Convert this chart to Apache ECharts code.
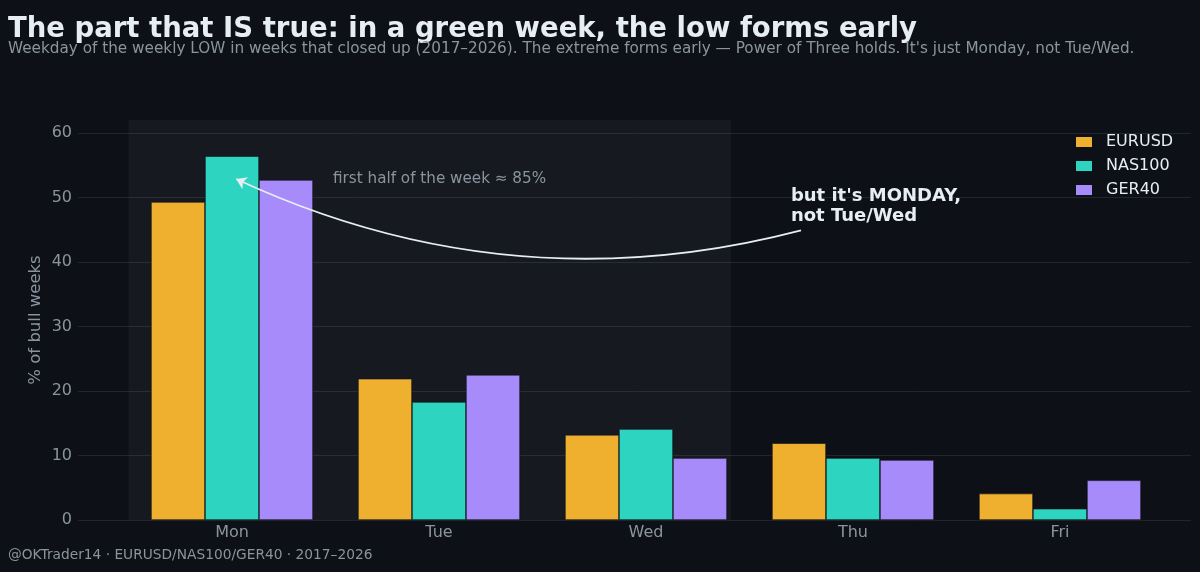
<!DOCTYPE html>
<html>
<head>
<meta charset="utf-8">
<script src="https://cdn.jsdelivr.net/npm/echarts@6/dist/echarts.min.js"></script>
<style>
  html, body { margin: 0; padding: 0; background: #0d1117; }
  #chart { width: 1200px; height: 572px; }
</style>
</head>
<body>
<div id="chart"></div>
<script>
const days = ['Mon', 'Tue', 'Wed', 'Thu', 'Fri']
const eurusd = [49.3, 21.9, 13.2, 11.9, 4.1]
const nas100 = [56.4, 18.3, 14.1, 9.6, 1.75]
const ger40 = [52.7, 22.5, 9.6, 9.3, 6.15]
const yTicks = [0, 10, 20, 30, 40, 50, 60]

const BG = '#0d1117'
const FG = '#e6edf3'
const MUTED = '#8b949e'
const GRID = '#21262d'
const FONT = 'DejaVu Sans'

const chart = echarts.init(document.getElementById('chart'), null, { renderer: 'canvas' })

const barSeries = (name, values, color) => ({
  name,
  type: 'bar',
  z: 3,
  barWidth: 54,
  barGap: '0%',
  data: values.map((v, i) => [i, v]),
  itemStyle: { color, borderColor: BG, borderWidth: 0.6 },
  emphasis: { disabled: true },
})

chart.setOption({
  backgroundColor: BG,
  animation: false,
  textStyle: { fontFamily: FONT },
  title: [
    {
      text: 'The part that IS true: in a green week, the low forms early',
      left: 8, top: 16, padding: 0,
      textStyle: { color: FG, fontSize: 27.5, fontWeight: 'bold', fontFamily: FONT },
    },
    {
      text: "Weekday of the weekly LOW in weeks that closed up (2017–2026). The extreme forms early — Power of Three holds. It's just Monday, not Tue/Wed.",
      left: 8, top: 42, padding: 0,
      textStyle: { color: MUTED, fontSize: 15.25, fontWeight: 'normal', fontFamily: FONT },
    },
    {
      text: '@OKTrader14 · EURUSD/NAS100/GER40 · 2017–2026',
      left: 8, top: 548, padding: 0,
      textStyle: { color: MUTED, fontSize: 13.75, fontWeight: 'normal', fontFamily: FONT },
    },
  ],
  legend: {
    data: ['EURUSD', 'NAS100', 'GER40'],
    orient: 'vertical',
    left: 1074, top: 134,
    padding: 0,
    icon: 'rect',
    itemWidth: 18, itemHeight: 12, itemGap: 8,
    textStyle: { color: FG, fontSize: 16, lineHeight: 16, fontFamily: FONT, padding: [0, 0, 0, 8] },
  },
  grid: { left: 78, right: 9, top: 120, bottom: 52, containLabel: false },
  xAxis: {
    type: 'value',
    min: -0.744, max: 4.633,
    axisLine: { show: false },
    axisTick: { show: false },
    splitLine: { show: false },
    axisLabel: {
      customValues: days.map((d, i) => i),
      formatter: v => days[Math.round(v)] ?? '',
      color: MUTED, fontSize: 16, margin: 5, fontFamily: FONT,
    },
  },
  yAxis: {
    type: 'value',
    min: 0, max: 62,
    interval: 10,
    name: '% of bull weeks',
    nameLocation: 'middle',
    nameGap: 34,
    nameMoveOverlap: false,
    nameTextStyle: { color: MUTED, fontSize: 16.5, fontFamily: FONT },
    axisLine: { show: false },
    axisTick: { show: false },
    axisLabel: {
      customValues: yTicks,
      color: MUTED, fontSize: 16, margin: 6, fontFamily: FONT,
    },
    splitLine: { show: true, showMaxLine: false, lineStyle: { color: GRID, width: 1 } },
  },
  series: [
    {
      // shaded "first half of the week" band
      name: 'band',
      type: 'line',
      z: 1,
      data: [],
      silent: true,
      markArea: {
        silent: true,
        itemStyle: { color: 'rgba(255,255,255,0.038)' },
        data: [[{ xAxis: -0.5, yAxis: 0 }, { xAxis: 2.41, yAxis: 62 }]],
      },
    },
    barSeries('EURUSD', eurusd, '#f0b02f'),
    barSeries('NAS100', nas100, '#2dd4bf'),
    barSeries('GER40', ger40, '#a78bfa'),
    {
      // curved arrow from the callout to the Monday bars
      name: 'arrow',
      type: 'lines',
      coordinateSystem: 'cartesian2d',
      z: 6,
      silent: true,
      symbol: ['none', 'arrow'],
      symbolSize: 10,
      lineStyle: { color: FG, width: 1.8, opacity: 1, curveness: 0.18 },
      data: [{ coords: [[2.749, 44.9], [0.02, 52.85]] }],
    },
    {
      // text notes
      name: 'notes',
      type: 'line',
      z: 6,
      data: [],
      silent: true,
      markPoint: {
        silent: true,
        symbol: 'circle',
        symbolSize: 0,
        data: [
          {
            coord: [0.488, 52.85],
            label: {
              show: true, position: 'right', distance: 0,
              formatter: 'first half of the week ≈ 85%',
              color: MUTED, fontSize: 15.2, fontFamily: FONT,
            },
          },
          {
            coord: [2.70, 48.6],
            label: {
              show: true, position: 'right', distance: 0,
              formatter: "but it's MONDAY,\nnot Tue/Wed",
              color: FG, fontSize: 18, fontWeight: 'bold', lineHeight: 20, fontFamily: FONT,
            },
          },
        ],
      },
    },
  ],
})
</script>
</body>
</html>
